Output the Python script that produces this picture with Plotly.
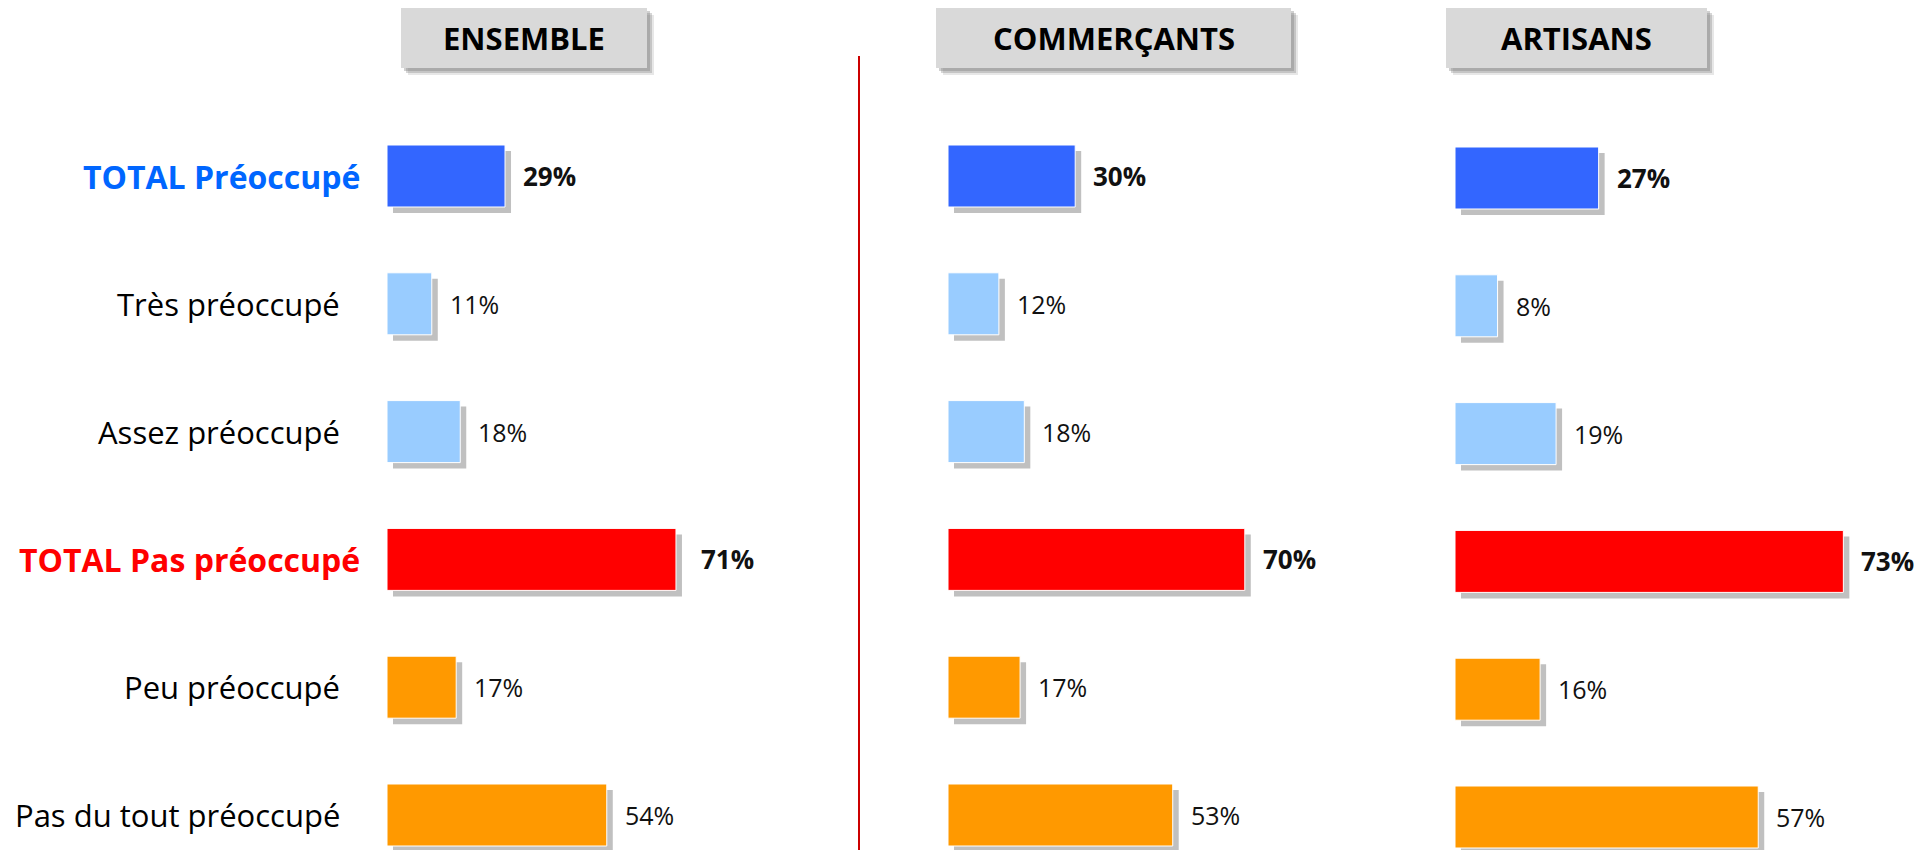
import plotly.graph_objects as go

# ---------------- data ----------------
categories = ["TOTAL Préoccupé", "Très préoccupé", "Assez préoccupé",
              "TOTAL Pas préoccupé", "Peu préoccupé", "Pas du tout préoccupé"]
is_total = [True, False, False, True, False, False]
ensemble = [29, 11, 18, 71, 17, 54]
commercants = [30, 12, 18, 70, 17, 53]
artisans = [27, 8, 19, 73, 16, 57]
panel_titles = ["ENSEMBLE", "COMMERÇANTS", "ARTISANS"]

# ---------------- style ----------------
W, H = 1916, 850
FONT = "Open Sans"
bar_colors = ["#3366FF", "#99CCFF", "#99CCFF", "#FF0000", "#FF9900", "#FF9900"]
label_colors = ["#0066FF", "#000000", "#000000", "#FF0000", "#000000", "#000000"]
SHADOW = "#C0C0C0"

# panel geometry in pixels: bar start, pixels per percent, axis max, y shift
panels = [
    dict(vals=ensemble, x0=387, ppp=4.07, rmax=100, yshift=0.0, title_box=(401, 647)),
    dict(vals=commercants, x0=948, ppp=4.24, rmax=100, yshift=0.0, title_box=(936, 1291)),
    dict(vals=artisans, x0=1455, ppp=5.32, rmax=86, yshift=2.0, title_box=(1446, 1707)),
]

c0, step = 176.0, 127.8          # pixel centre of first row, row spacing
bar_h_px = 62.0
bw = bar_h_px / step
sdx, sdy = 6.0, 6.0               # shadow offset in px

fig = go.Figure()
layout = dict(
    width=W, height=H,
    margin=dict(l=0, r=0, t=0, b=0),
    paper_bgcolor="white", plot_bgcolor="rgba(0,0,0,0)",
    showlegend=False, barmode="overlay",
    font=dict(family=FONT, color="#000000"),
    shapes=[], annotations=[],
)

ypos = list(range(len(categories)))

for k, p in enumerate(panels):
    xa = "x" if k == 0 else f"x{k+1}"
    ya = "y" if k == 0 else f"y{k+1}"
    xkey = "xaxis" if k == 0 else f"xaxis{k+1}"
    ykey = "yaxis" if k == 0 else f"yaxis{k+1}"
    dom = [p["x0"] / W, (p["x0"] + p["rmax"] * p["ppp"]) / W]
    layout[xkey] = dict(domain=dom, range=[0, p["rmax"]], visible=False,
                        anchor=ya, fixedrange=True)
    top = -(c0 + p["yshift"]) / step
    bottom = (H - c0 - p["yshift"]) / step
    layout[ykey] = dict(domain=[0, 1], range=[bottom, top], visible=False,
                        anchor=xa, fixedrange=True)

    # shadow bars
    fig.add_trace(go.Bar(
        orientation="h", x=p["vals"], y=ypos,
        base=[sdx / p["ppp"]] * len(ypos),
        width=bw, offset=-bw / 2 + sdy / step,
        marker=dict(color=SHADOW, line=dict(width=0)),
        xaxis=xa, yaxis=ya, hoverinfo="skip"))
    # main bars
    fig.add_trace(go.Bar(
        orientation="h", x=p["vals"], y=ypos,
        width=bw, offset=-bw / 2,
        marker=dict(color=bar_colors, line=dict(color="white", width=1)),
        xaxis=xa, yaxis=ya, hoverinfo="skip"))

    # value labels
    for i, v in enumerate(p["vals"]):
        txt = f"{v}%"
        if is_total[i]:
            txt = f"<b>{txt}</b>"
        layout["annotations"].append(dict(
            x=v, y=i, xref=xa, yref=ya, text=txt, showarrow=False,
            xanchor="left", yanchor="middle",
            xshift=16 + (7 if (k == 0 and i == 3) else 0),
            font=dict(family=FONT, size=26 if is_total[i] else 25,
                      color="#111111")))

    # header boxes
    bx0, bx1 = p["title_box"]
    by0, by1 = 8, 68
    for (dx, dy, col) in [(7, 7, "rgba(120,120,120,0.18)"),
                          (5, 5, "rgba(120,120,120,0.30)"),
                          (3, 3, "rgba(120,120,120,0.35)")]:
        layout["shapes"].append(dict(
            type="rect", xref="paper", yref="paper",
            x0=(bx0 + dx) / W, x1=(bx1 + dx) / W,
            y0=1 - (by1 + dy) / H, y1=1 - (by0 + dy) / H,
            fillcolor=col, line=dict(width=0), layer="below"))
    layout["shapes"].append(dict(
        type="rect", xref="paper", yref="paper",
        x0=bx0 / W, x1=bx1 / W, y0=1 - by1 / H, y1=1 - by0 / H,
        fillcolor="#D9D9D9", line=dict(width=0), layer="below"))
    layout["annotations"].append(dict(
        x=(bx0 + bx1) / 2 / W, y=1 - (by0 + by1) / 2 / H,
        xref="paper", yref="paper", text=f"<b>{panel_titles[k]}</b>",
        showarrow=False, xanchor="center", yanchor="middle",
        font=dict(family=FONT, size=31, color="#000000")))

# category labels (left)
for i, c in enumerate(categories):
    txt = f"<b>{c}</b>" if is_total[i] else c
    xr = 362 if is_total[i] else 342
    layout["annotations"].append(dict(
        x=xr / W, y=i, xref="paper", yref="y", text=txt, showarrow=False,
        xanchor="right", yanchor="middle",
        font=dict(family=FONT, size=32 if is_total[i] else 31,
                  color=label_colors[i])))

# red separator line
layout["shapes"].append(dict(
    type="line", xref="paper", yref="paper",
    x0=859 / W, x1=859 / W, y0=1 - 56 / H, y1=0,
    line=dict(color="#CC0000", width=2)))

fig.update_layout(**layout)
fig.write_html("out.html", config={"displayModeBar": False, "staticPlot": True},
               post_script="document.body.style.margin='0';document.body.style.overflow='hidden';")
